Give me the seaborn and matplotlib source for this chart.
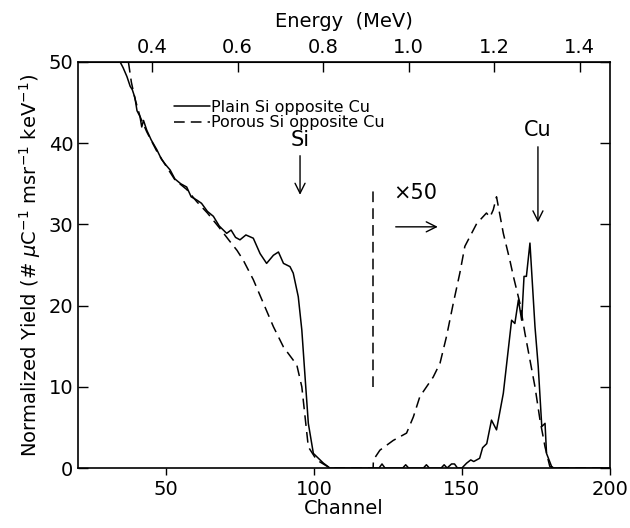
# -*- coding: utf-8 -*-

import numpy as np
import pandas as pd
import matplotlib as mpl
import matplotlib.pyplot as plt
import seaborn as sns
from matplotlib.lines import Line2D

sns.set_style("ticks", {'axes.edgecolor': 'black', 'text.color': 'black',
                        'xtick.color': 'black', 'ytick.color': 'black',
                        'axes.labelcolor': 'black'})
plt.rcParams['font.family'] = ['DejaVu Sans']

# plain Si opposite Cu (solid)
plain_ch = [34.5, 35.5, 36.8, 37.9, 38.6, 39.5, 40.2, 41.2, 41.8, 42.4, 43.5, 45.0, 46.9,
            48.5, 50.0, 51.4, 53.0, 55.0, 57.0, 58.5, 60.4, 62.0, 64.0, 66.0, 68.0, 70.5,
            72.0, 73.5, 75.0, 77.0, 79.5, 81.8, 84.0, 86.3, 88.0, 89.7, 91.9, 93.0, 94.7,
            95.9, 97.0, 98.1, 99.8, 103.2, 105.4, 120.0, 122.0, 123.0, 124.0, 130.0, 131.0,
            132.0, 137.0, 138.0, 139.0, 143.0, 144.0, 145.0, 146.5, 147.5, 148.5, 150.0,
            151.6, 153.0, 154.0, 156.0, 157.0, 158.4, 160.0, 161.7, 164.0, 166.8, 167.9,
            169.1, 170.2, 171.0, 171.8, 173.0, 174.7, 175.8, 177.0, 178.1, 178.6, 180.3,
            181.0, 200.0]
plain_y = [50.0, 49.3, 48.2, 47.0, 46.6, 45.6, 44.0, 43.3, 42.0, 42.8, 41.6, 40.4, 39.2,
           38.0, 37.3, 36.7, 35.6, 35.0, 34.6, 33.4, 33.0, 32.6, 31.6, 31.0, 29.8, 28.9,
           29.3, 28.4, 28.1, 28.7, 28.3, 26.4, 25.2, 26.2, 26.6, 25.2, 24.8, 24.0, 21.1,
           17.0, 11.2, 5.5, 1.8, 0.6, 0.0, 0.0, 0.0, 0.5, 0.0, 0.0, 0.4,
           0.0, 0.0, 0.4, 0.0, 0.0, 0.4, 0.0, 0.5, 0.5, 0.0, 0.0,
           0.6, 1.0, 0.8, 1.2, 2.5, 3.0, 5.9, 4.7, 9.2, 18.2, 17.8,
           20.7, 18.2, 23.6, 23.6, 27.7, 17.4, 12.5, 5.1, 5.5, 1.8, 0.2,
           0.0, 0.0]

# porous Si opposite Cu (dashed)
porous_ch = [37.3, 38.3, 39.5, 41.2, 43.5, 46.9, 50.0, 53.0, 57.0, 60.4, 64.0, 68.0, 71.6,
             74.0, 76.1, 79.5, 82.9, 86.3, 89.7, 94.2, 95.9, 97.0, 98.1, 100.9, 105.4,
             120.0, 120.1, 122.3, 126.8, 131.3, 133.6, 135.8, 140.3, 142.6, 144.8, 147.1,
             149.3, 151.0, 155.0, 158.3, 159.5, 160.6, 161.7, 164.0, 166.2, 167.4, 169.6,
             171.3, 173.0, 174.7, 176.4, 178.1, 179.7, 181.0, 200.0]
porous_y = [50.0, 47.5, 45.5, 43.3, 41.4, 39.0, 37.2, 35.5, 34.3, 32.8, 31.4, 29.6, 27.9,
            26.8, 25.6, 23.2, 20.3, 17.4, 14.9, 12.7, 10.0, 6.3, 2.6, 1.0, 0.0,
            0.0, 1.0, 2.2, 3.4, 4.3, 6.3, 8.8, 11.2, 12.9, 16.2, 20.3,
            24.0, 27.3, 30.1, 31.4, 30.9, 31.8, 33.4, 28.9, 25.6, 23.6, 20.3,
            16.6, 13.3, 10.0, 5.9, 2.6, 0.2, 0.0, 0.0]

energy_ticks = [0.4, 0.6, 0.8, 1.0, 1.2, 1.4]

# channel -> energy calibration (MeV)
slope, offset = 0.00692, 0.0865


def ch2e(c):
    return slope * np.asarray(c) + offset


def e2ch(e):
    return (np.asarray(e) - offset) / slope


fig = plt.figure(figsize=(6.3, 5.28), dpi=100)
ax = fig.add_axes([0.124, 0.1136, 0.844, 0.769])

sns.lineplot(x=plain_ch, y=plain_y, ax=ax, color='black', lw=1.1, sort=False, estimator=None)
sns.lineplot(x=porous_ch, y=porous_y, ax=ax, color='black', lw=1.1, sort=False, estimator=None,
             dashes=False, linestyle=(0, (7, 4)))

# x50 divider
ax.plot([120.1, 120.1], [10.0, 34.6], color='black', lw=1.1, linestyle=(0, (7, 4)))

ax.set_xlim(20.3, 200)
ax.set_ylim(0, 50)
ax.set_xticks([50, 100, 150, 200])
ax.set_yticks([0, 10, 20, 30, 40, 50])
ax.tick_params(axis='y', direction='in', length=7, right=True, labelsize=14, width=1)
ax.tick_params(axis='x', direction='out', length=5, labelsize=14, width=1)
for s in ax.spines.values():
    s.set_linewidth(1.2)

ax.set_xlabel('Channel', fontsize=14, labelpad=0)
ax.set_ylabel(r'Normalized Yield (# $\mu$C$^{-1}$ msr$^{-1}$ keV$^{-1}$)', fontsize=14, labelpad=4)

top = ax.secondary_xaxis('top', functions=(ch2e, e2ch))
top.set_xticks(energy_ticks)
top.set_xticklabels([f'{t:.1f}' for t in energy_ticks])
top.tick_params(direction='in', length=7, labelsize=14, width=1)
top.set_xlabel('Energy  (MeV)', fontsize=14, labelpad=8)

handles = [Line2D([], [], color='black', lw=1.1),
           Line2D([], [], color='black', lw=1.1, linestyle=(0, (7, 4)))]
ax.legend(handles, ['Plain Si opposite Cu', 'Porous Si opposite Cu'], loc='upper left',
          bbox_to_anchor=(0.16, 0.935), frameon=False, fontsize=11.5, handlelength=2.2,
          handletextpad=0.1, labelspacing=0.05, borderpad=0.2)

arrow = dict(arrowstyle='->', color='black', lw=1, mutation_scale=18)
ax.text(95.3, 40.4, 'Si', fontsize=15, ha='center', va='center')
ax.annotate('', xy=(95.3, 33.3), xytext=(95.3, 38.8), arrowprops=arrow)
ax.text(175.7, 41.6, 'Cu', fontsize=15, ha='center', va='center')
ax.annotate('', xy=(175.7, 29.9), xytext=(175.7, 39.9), arrowprops=arrow)
ax.text(134.3, 33.9, '×50', fontsize=15, ha='center', va='center')
ax.annotate('', xy=(142.8, 29.7), xytext=(126.7, 29.7), arrowprops=arrow)

fig.savefig('out.png', dpi=100)
